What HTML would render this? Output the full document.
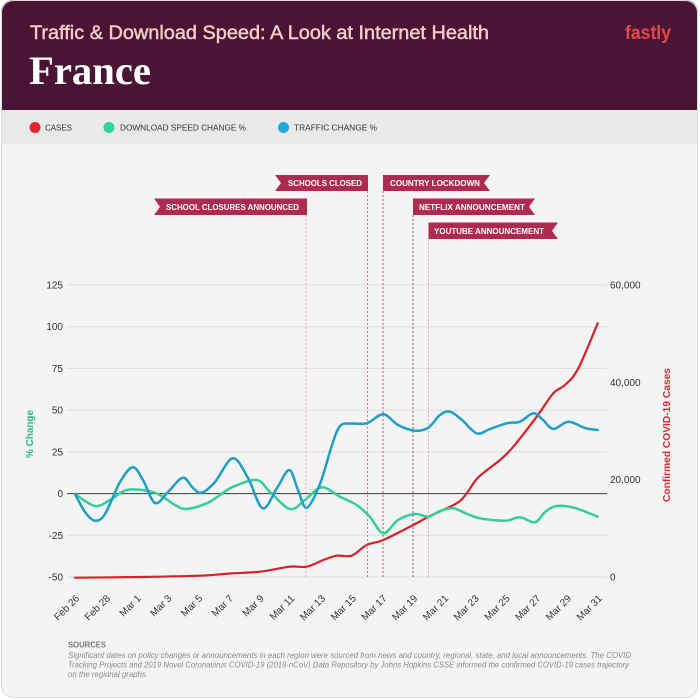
<!DOCTYPE html>
<html><head><meta charset="utf-8"><style>
html,body{margin:0;padding:0;background:#fff;}
svg{display:block;font-family:"Liberation Sans",sans-serif;}
</style></head><body>
<svg width="700" height="700" viewBox="0 0 700 700" xmlns="http://www.w3.org/2000/svg">
<defs>
<clipPath id="card"><rect x="1" y="0" width="697" height="698" rx="12"/></clipPath>
</defs>
<rect x="0" y="0" width="700" height="700" fill="#ffffff"/>
<g clip-path="url(#card)">
<rect x="0" y="0" width="700" height="700" fill="#f4f4f4"/>
<rect x="0" y="0" width="700" height="110" fill="#4a1535"/>
<rect x="0" y="110" width="700" height="34" fill="#e9e9e9"/>
</g>
<rect x="1.5" y="0.5" width="696" height="697" rx="12" fill="none" stroke="#dcdcdc" stroke-width="1"/>

<!-- header -->
<text x="30" y="39" font-size="19" fill="#f4cdc8" stroke="#f4cdc8" stroke-width="0.45" textLength="459" lengthAdjust="spacingAndGlyphs">Traffic &amp; Download Speed: A Look at Internet Health</text>
<text x="29" y="84" font-family="Liberation Serif, serif" font-weight="bold" font-size="40" fill="#ffffff" textLength="122" lengthAdjust="spacingAndGlyphs">France</text>
<text x="625" y="39" font-size="19" font-weight="bold" fill="#e5484a" textLength="46" lengthAdjust="spacingAndGlyphs">fastly</text>

<!-- legend -->
<circle cx="35" cy="127.5" r="5.5" fill="#e8232f"/>
<text x="45" y="130.5" font-size="8" fill="#333" textLength="27" lengthAdjust="spacingAndGlyphs">CASES</text>
<circle cx="109" cy="127.5" r="5.5" fill="#2fd39b"/>
<text x="120" y="130.5" font-size="8" fill="#333" textLength="126" lengthAdjust="spacingAndGlyphs">DOWNLOAD SPEED CHANGE %</text>
<circle cx="283.5" cy="127.5" r="5.5" fill="#1ea7dc"/>
<text x="294" y="130.5" font-size="8" fill="#333" textLength="83" lengthAdjust="spacingAndGlyphs">TRAFFIC CHANGE %</text>

<!-- gridlines -->
<g stroke="#dedede" stroke-width="1">
<line x1="67" x2="607" y1="285" y2="285"/>
<line x1="67" x2="607" y1="326.7" y2="326.7"/>
<line x1="67" x2="607" y1="368.4" y2="368.4"/>
<line x1="67" x2="607" y1="410.1" y2="410.1"/>
<line x1="67" x2="607" y1="451.9" y2="451.9"/>
<line x1="67" x2="607" y1="535.3" y2="535.3"/>
<line x1="67" x2="607" y1="577" y2="577"/>
</g>
<line x1="67" x2="607" y1="493.6" y2="493.6" stroke="#3a3a3a" stroke-width="1"/>

<!-- left tick labels -->
<g font-size="10" fill="#333" text-anchor="end">
<text x="63" y="288.5">125</text>
<text x="63" y="330.2">100</text>
<text x="63" y="371.9">75</text>
<text x="63" y="413.6">50</text>
<text x="63" y="455.4">25</text>
<text x="63" y="497.1">0</text>
<text x="63" y="538.8">-25</text>
<text x="63" y="580.5">-50</text>
</g>
<!-- right tick labels -->
<g font-size="10" fill="#333">
<text x="610" y="288.5">60,000</text>
<text x="610" y="385.8">40,000</text>
<text x="610" y="483.2">20,000</text>
<text x="610" y="580.5">0</text>
</g>
<text transform="translate(33,434) rotate(-90)" text-anchor="middle" font-size="10" font-weight="bold" fill="#2bb58a" textLength="48" lengthAdjust="spacingAndGlyphs">% Change</text>
<text transform="translate(670,435) rotate(-90)" text-anchor="middle" font-size="10" font-weight="bold" fill="#d9282f" textLength="134" lengthAdjust="spacingAndGlyphs">Confirmed COVID-19 Cases</text>

<!-- dashed event lines -->
<g stroke-width="1" stroke-dasharray="2,2">
<line x1="306" x2="306" y1="215" y2="577" stroke="#d6a9b3"/>
<line x1="367.5" x2="367.5" y1="191" y2="577" stroke="#c08595"/>
<line x1="383" x2="383" y1="191" y2="577" stroke="#a05a70"/>
<line x1="413" x2="413" y1="215" y2="577" stroke="#8a4a60"/>
<line x1="428.5" x2="428.5" y1="239" y2="577" stroke="#d6a9b3"/>
</g>

<!-- banners -->
<g fill="#b02a50">
<polygon points="275,175 368,175 368,191 275,191 281,183"/>
<polygon points="383,175 490,175 484,183 490,191 383,191"/>
<polygon points="154,198.5 307,198.5 307,215 154,215 160,206.75"/>
<polygon points="413,198.5 535,198.5 529,206.75 535,215 413,215"/>
<polygon points="428.5,222.5 558,222.5 552,230.75 558,239 428.5,239"/>
</g>
<g font-size="8" font-weight="bold" fill="#ffffff">
<text x="288" y="186" textLength="74" lengthAdjust="spacingAndGlyphs">SCHOOLS CLOSED</text>
<text x="390" y="186" textLength="90" lengthAdjust="spacingAndGlyphs">COUNTRY LOCKDOWN</text>
<text x="166" y="209.8" textLength="133" lengthAdjust="spacingAndGlyphs">SCHOOL CLOSURES ANNOUNCED</text>
<text x="419" y="209.8" textLength="106" lengthAdjust="spacingAndGlyphs">NETFLIX ANNOUNCEMENT</text>
<text x="434" y="233.8" textLength="110" lengthAdjust="spacingAndGlyphs">YOUTUBE ANNOUNCEMENT</text>
</g>

<!-- series -->
<path id="red" fill="none" stroke="#d3222a" stroke-width="2.2" stroke-linejoin="round" stroke-linecap="round" d="M75,577.7 L140,577 L200,575.7 L230,573.5 L260,571.7 L290,566.7 L306.7,566.7 L323.3,560 L336.7,555.7 L351.7,555.7 L366.7,545 L383.3,540 L413.3,525 L430,516 L456.7,503.3 L466.7,493.3 L478.3,477.3 L500,460 L513.3,446.7 L536.7,416.7 L553.3,393.3 L565,385 L578.3,368.3 L597.7,323.3"/>
<path id="green" fill="none" stroke="#34cf97" stroke-width="2.5" stroke-linejoin="round" stroke-linecap="round" d="M75,494 L95,506 L110,500 L126.7,490 L146.7,490.7 L160,495 L175,505 L186.7,509 L206.7,503.3 L220,495 L233.3,486.7 L256.7,480 L270,492 L290,509 L305,500 L321.7,487.3 L340,496.7 L356.7,505 L370,517 L383.3,533.3 L398,520 L415,514 L428.3,516.7 L440,511 L453.3,508.3 L465,513 L480,518.3 L505,520.7 L520,517.3 L535,522.3 L545,512 L556.7,506 L575,508 L597.7,516.7"/>
<path id="blue" fill="none" stroke="#1f9ec9" stroke-width="2.5" stroke-linejoin="round" stroke-linecap="round" d="M75,494 L85,512 L95,520.7 L105,514 L120,482 L132.7,467.3 L143,480 L155,503 L168,492 L182.7,477.7 L193,488 L201.7,492.7 L215,482 L232.7,458.3 L248,478 L262.7,508.3 L277,488 L289.3,470 L298,490 L306.7,507.7 L320,484 L332,445 L340,426 L350,423.5 L366.7,423.3 L383.3,414.3 L398,425 L415,430.7 L428.3,427.7 L440,415 L450,411.7 L462,420 L476.7,433.3 L490,429 L506.7,423.3 L520,421.7 L533.3,413.3 L543,420 L553.3,429 L568.3,421.7 L585,428 L597.7,430"/>

<!-- x labels -->
<g font-size="10" fill="#333" text-anchor="end">
<text transform="translate(80,599) rotate(-45)">Feb 26</text>
<text transform="translate(110.7,599) rotate(-45)">Feb 28</text>
<text transform="translate(141.5,599) rotate(-45)">Mar 1</text>
<text transform="translate(172.2,599) rotate(-45)">Mar 3</text>
<text transform="translate(203,599) rotate(-45)">Mar 5</text>
<text transform="translate(233.7,599) rotate(-45)">Mar 7</text>
<text transform="translate(264.4,599) rotate(-45)">Mar 9</text>
<text transform="translate(295.2,599) rotate(-45)">Mar 11</text>
<text transform="translate(325.9,599) rotate(-45)">Mar 13</text>
<text transform="translate(356.7,599) rotate(-45)">Mar 15</text>
<text transform="translate(387.4,599) rotate(-45)">Mar 17</text>
<text transform="translate(418.1,599) rotate(-45)">Mar 19</text>
<text transform="translate(448.9,599) rotate(-45)">Mar 21</text>
<text transform="translate(479.6,599) rotate(-45)">Mar 23</text>
<text transform="translate(510.4,599) rotate(-45)">Mar 25</text>
<text transform="translate(541.1,599) rotate(-45)">Mar 27</text>
<text transform="translate(571.8,599) rotate(-45)">Mar 29</text>
<text transform="translate(602.6,599) rotate(-45)">Mar 31</text>
</g>

<!-- sources -->
<text x="68" y="647.5" font-size="8" font-weight="bold" fill="#7a7a7a" textLength="38" lengthAdjust="spacingAndGlyphs">SOURCES</text>
<g font-size="8" font-style="italic" fill="#8a8a8a">
<text x="68" y="658" textLength="563" lengthAdjust="spacingAndGlyphs">Significant dates on policy changes or announcements in each region were sourced from news and country, regional, state, and local announcements. The COVID</text>
<text x="68" y="667.5" textLength="561" lengthAdjust="spacingAndGlyphs">Tracking Projects and 2019 Novel Coronavirus COVID-19 (2019-nCoV) Data Repository by Johns Hopkins CSSE informed the confirmed COVID-19 cases trajectory</text>
<text x="68" y="677" textLength="80" lengthAdjust="spacingAndGlyphs">on the regional graphs.</text>
</g>
</svg>
<script>
(function(){
  ['red','green','blue'].forEach(function(id){
    var el=document.getElementById(id);
    var d=el.getAttribute('d');
    var nums=d.replace(/[ML]/g,' ').trim().split(/[\s,]+/).map(Number);
    var p=[];for(var i=0;i<nums.length;i+=2)p.push([nums[i],nums[i+1]]);
    var s='M'+p[0][0]+','+p[0][1];
    for(var i=0;i<p.length-1;i++){
      var p0=p[i-1]||p[i],p1=p[i],p2=p[i+1],p3=p[i+2]||p[i+1];
      var c1x=p1[0]+(p2[0]-p0[0])/6,c1y=p1[1]+(p2[1]-p0[1])/6;
      var c2x=p2[0]-(p3[0]-p1[0])/6,c2y=p2[1]-(p3[1]-p1[1])/6;
      s+=' C'+c1x.toFixed(2)+','+c1y.toFixed(2)+' '+c2x.toFixed(2)+','+c2y.toFixed(2)+' '+p2[0]+','+p2[1];
    }
    el.setAttribute('d',s);
  });
})();
</script>
</body></html>
